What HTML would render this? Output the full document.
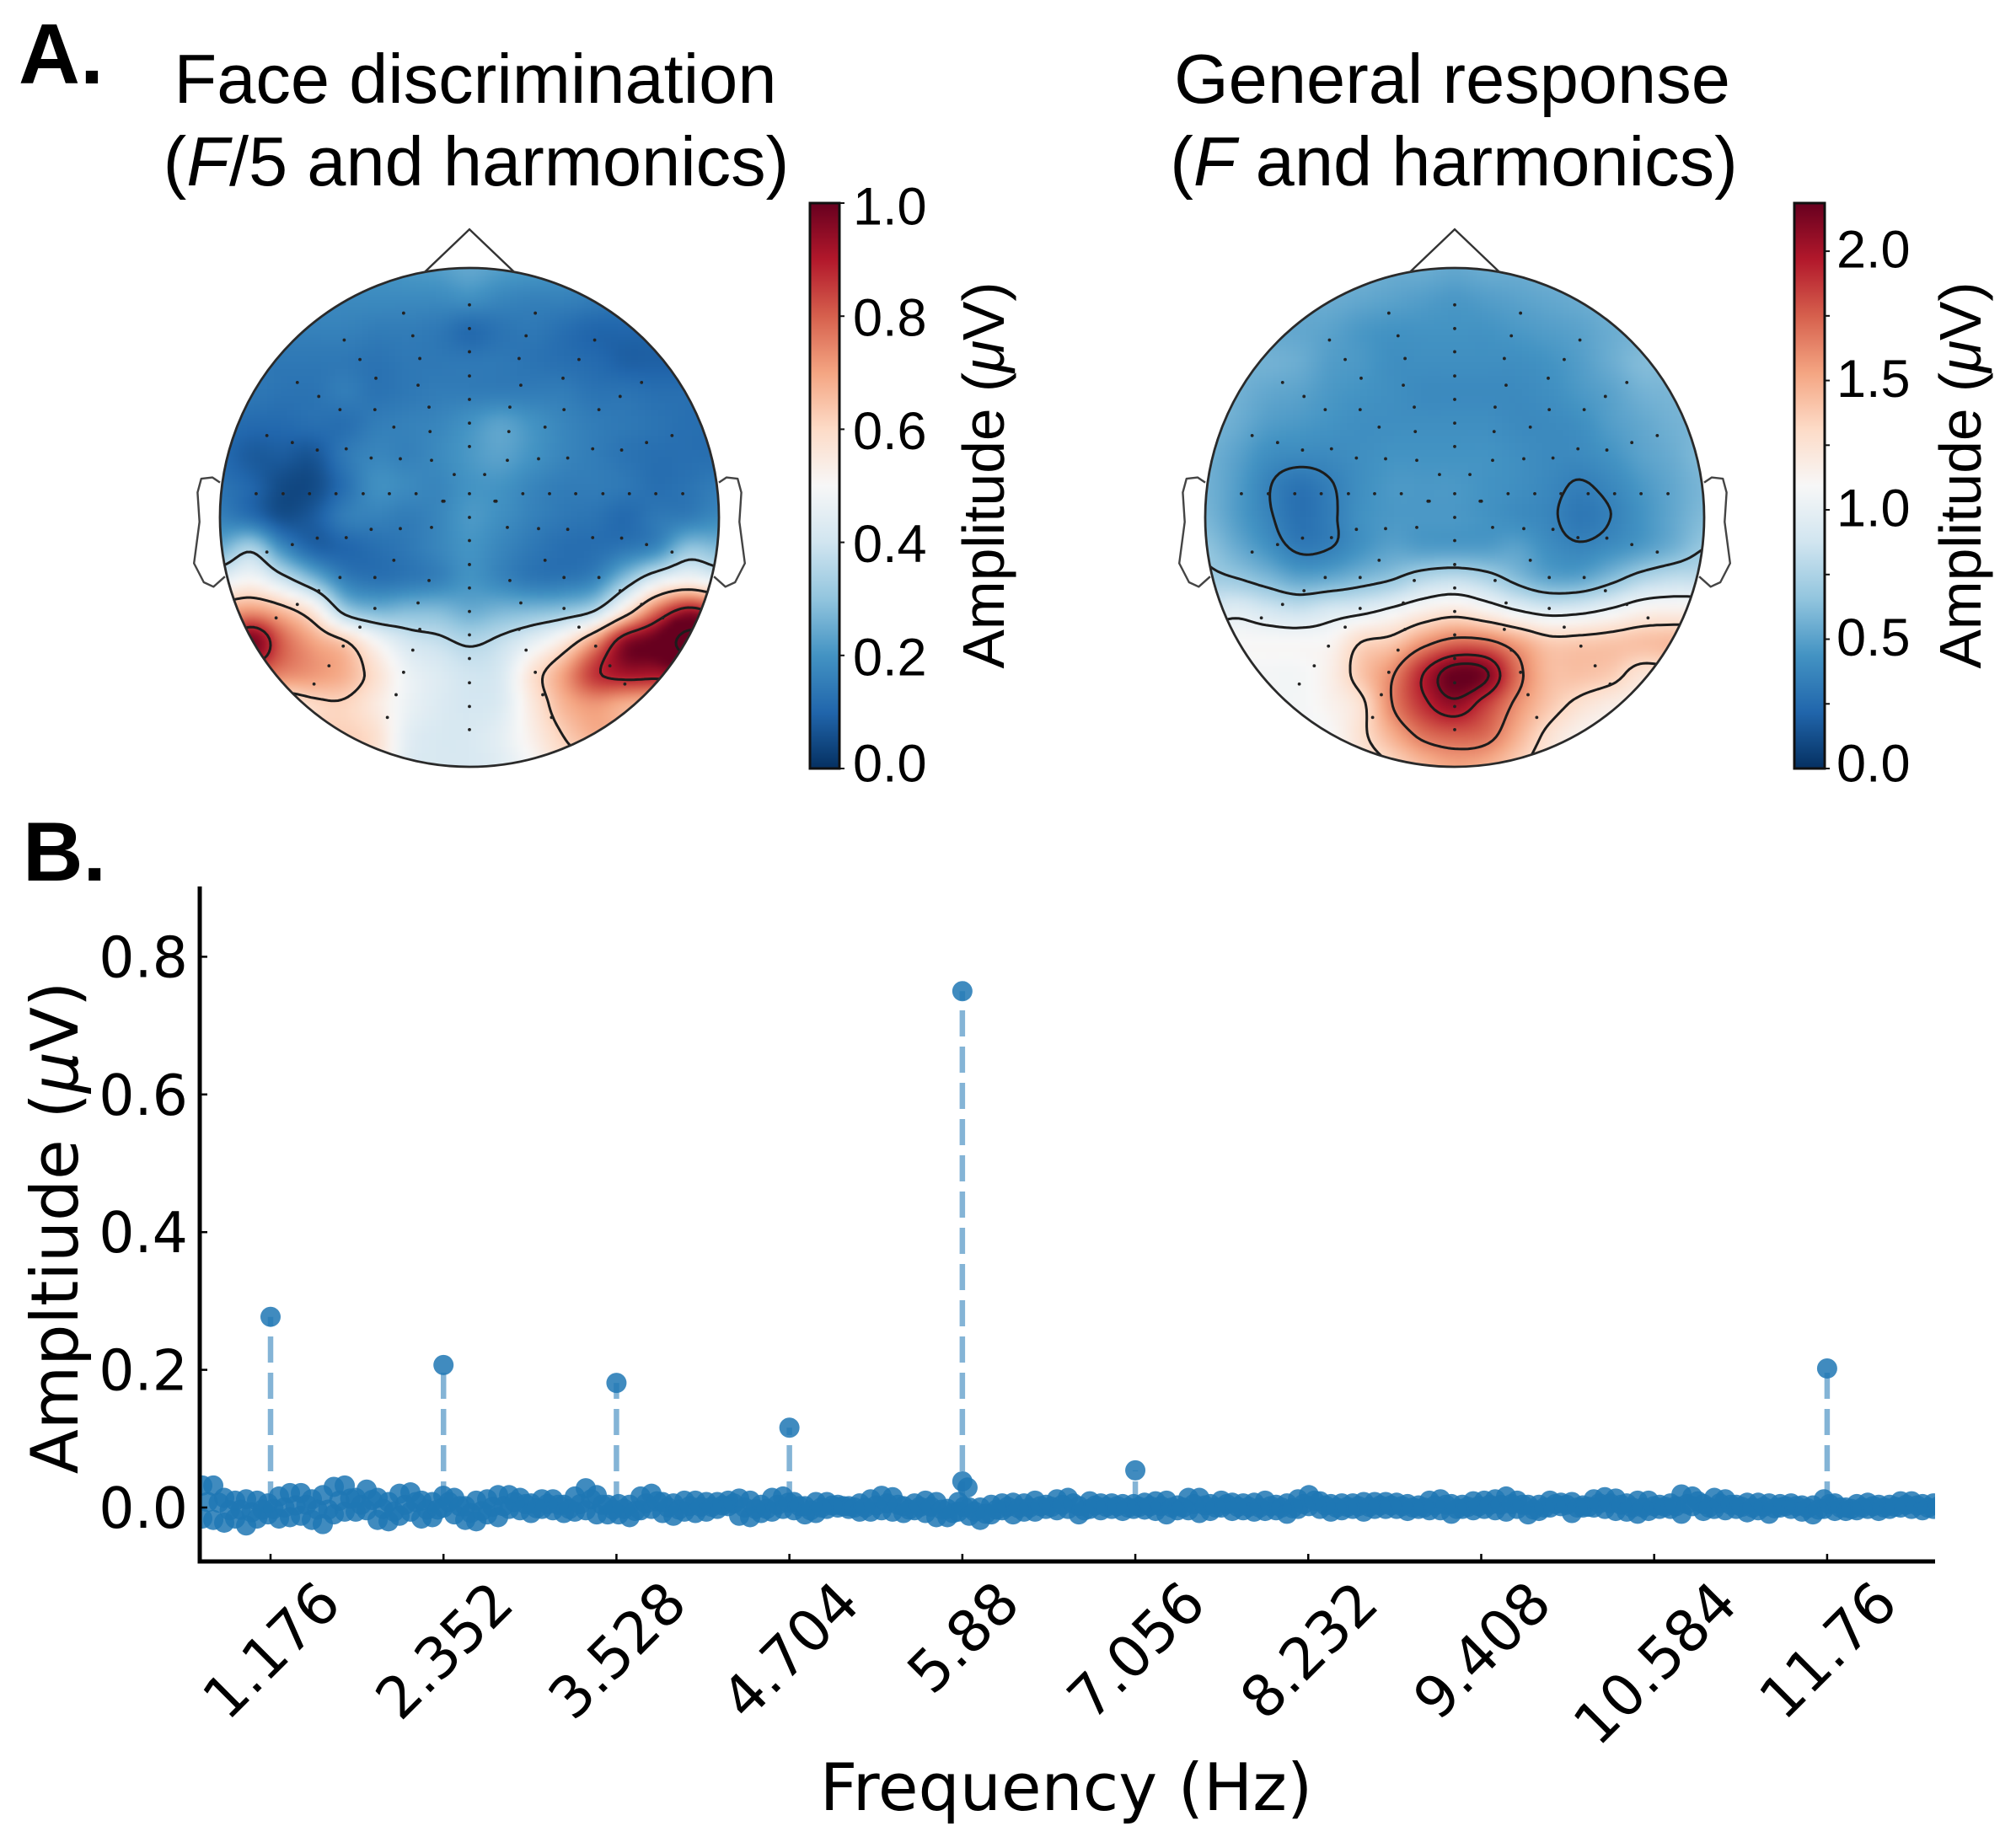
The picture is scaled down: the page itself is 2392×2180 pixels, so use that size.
<!DOCTYPE html>
<html lang="en">
<head>
<meta charset="utf-8">
<title>Face discrimination and general response topographies with amplitude spectrum</title>
<style>
html,body{margin:0;padding:0;background:#fff;}
svg{display:block;}
.sans{font-family:"Liberation Sans",Arial,sans-serif;fill:#000;}
.dv{font-family:"DejaVu Sans",sans-serif;fill:#000;}
</style>
</head>
<body>
<svg id="figure" xmlns="http://www.w3.org/2000/svg" width="2392" height="2180" viewBox="0 0 2392 2180">
  <defs>
    <filter id="heat-blur" x="-5%" y="-5%" width="110%" height="110%" color-interpolation-filters="sRGB"><feGaussianBlur stdDeviation="3.5"/></filter>
    <clipPath id="clip-head-1"><circle cx="557" cy="614" r="296"/></clipPath>
    <clipPath id="clip-head-2"><circle cx="1726" cy="614" r="296"/></clipPath>
    <clipPath id="clip-axes"><rect x="237" y="1040" width="2059" height="813"/></clipPath>
    <linearGradient id="cbar-gradient" x1="0" y1="1" x2="0" y2="0"></linearGradient>
  </defs>
  <rect width="2392" height="2180" fill="#fff"/>

  <text class="sans" x="22" y="99" font-size="101" font-weight="700">A.</text>
  <text class="sans" x="27" y="1045" font-size="99" font-weight="700">B.</text>

  <text class="sans" x="564" y="122" font-size="83" text-anchor="middle">Face discrimination</text>
  <text class="sans" x="565" y="220" font-size="83" text-anchor="middle">(<tspan font-style="italic">F</tspan>/5 and harmonics)</text>
  <text class="sans" x="1723" y="122" font-size="83" text-anchor="middle">General response</text>
  <text class="sans" x="1725" y="220" font-size="83" text-anchor="middle">(<tspan font-style="italic">F</tspan> and harmonics)</text>

  <g id="topo-1"></g>
  <g id="topo-2"></g>
  <g id="cbar-1"></g>
  <g id="cbar-2"></g>

  <text class="sans" font-size="69.5" text-anchor="middle" transform="translate(1191,564) rotate(-90)">Amplitude (<tspan font-style="italic">μ</tspan>V)</text>
  <text class="sans" font-size="69.5" text-anchor="middle" transform="translate(2350,564) rotate(-90)">Amplitude (<tspan font-style="italic">μ</tspan>V)</text>

  <g id="spectrum">
    <g id="spectrum-stems" clip-path="url(#clip-axes)"></g>
    <g id="spectrum-points" clip-path="url(#clip-axes)"></g>
    <g id="spectrum-axes"></g>
  </g>
  <text class="dv" font-size="77.5" text-anchor="middle" transform="translate(92,1457) rotate(-90)">Ampltiude (<tspan font-style="italic">μ</tspan>V)</text>
  <text class="dv" font-size="77.5" text-anchor="middle" x="1265" y="2148">Frequency (Hz)</text>
</svg>

<script>
// ---------- Panel A data: scalp amplitude, on a 17x17 grid over the head (percent of colour-bar maximum) ----------
const faceAmplitudeGrid = [
[20,20,20,20,20,20,21,22,24,22,21,20,18,18,18,18,18],
[18,18,18,18,18,18,18,18,19,17,16,16,15,14,14,14,14],
[16,16,16,16,16,15,15,14,11,13,14,12,10,10,10,10,10],
[14,14,14,14,14,13,14,14,14,14,13,12,11,9,9,9,9],
[14,14,13,13,15,13,14,15,15,15,15,15,13,13,12,12,12],
[12,11,11,12,12,15,16,17,20,23,20,17,15,14,13,12,12],
[11,8,8,7,14,17,16,18,21,23,20,17,15,13,12,12,12],
[13,10,5,5,12,19,18,17,20,20,17,15,15,14,12,13,15],
[16,12,6,8,15,16,15,17,21,19,16,14,13,11,14,15,18],
[26,34,19,10,10,12,14,17,20,17,14,12,12,14,18,30,28],
[45,50,40,28,16,13,14,16,20,17,14,14,17,30,44,50,45],
[68,72,66,55,33,27,28,28,25,27,28,30,36,56,78,92,85],
[80,98,80,70,63,50,41,38,35,38,45,55,72,95,102,120,120],
[75,80,75,72,68,58,47,43,40,42,57,70,86,92,92,95,95],
[55,55,55,60,61,55,47,43,41,43,55,67,72,68,66,66,66],
[55,55,55,60,62,58,45,42,42,45,53,62,68,68,68,68,68],
[50,50,50,50,64,58,44,42,42,44,50,58,60,60,60,60,60]
];
const generalAmplitudeGrid = [
[26,26,26,26,26,26,25,25,24,25,25,26,26,26,26,26,26],
[25,25,25,25,25,24,23,22,21,22,23,24,25,26,26,26,26],
[24,24,24,24,23,21,20,20,20,20,21,22,23,25,26,26,26],
[26,26,26,25,22,21,19,19,19,19,19,20,22,25,28,28,28],
[28,26,24,23,21,20,19,18,18,18,18,19,21,23,26,27,28],
[27,25,22,21,20,19,19,19,19,19,18,18,19,22,24,26,27],
[26,23,19,18,18,19,20,20,20,20,19,18,18,20,23,25,28],
[26,22,16.5,13,15.5,19,21,21,21,20,19,17.5,15.5,17.5,21,24,27],
[27,22,17,12.5,15,19.5,21,21,21,20,18.5,17,14,16,20,24,28],
[30,25,20,15,16,20,23,22,22,22,23,19,17,19,22,26,31],
[33,31.5,28,24,25,28,31,36,38,35,29,24,24,29,35,38,38],
[42,44,41,39,42,44,48,53,56,52,46.5,43,44,47.5,52,53,53],
[50,50,50,50,51,60,63,72,78,77,70,63,63,64,65,66,66],
[49,49,49,49,53,64,74,89,100,97,78,66,65,63,57,58,58],
[49,49,49,49,52,58,75,87,94,85,73,64,58,54,52,52,52],
[49,49,49,49,50,58,68,77,80,78,68,58,52,50,50,50,50],
[50,50,50,50,50,55,60,66,70,68,62,55,50,50,50,50,50]
];
const faceContourLevels = [36,62,88,114];
const generalContourLevels = [16,31,46,60,75,89,96];
const faceColorbarTicks = [0,0.2,0.4,0.6,0.8,1.0];
const faceColorbarLabels = ["0.0","0.2","0.4","0.6","0.8","1.0"];
const generalColorbarTicks = [0,0.25,0.5,0.75,1.0,1.25,1.5,1.75,2.0];
const generalColorbarLabels = ["0.0","","0.5","","1.0","","1.5","","2.0"];
// electrode layout: [offset from midline, row] in head units, mirrored left/right
const sensorMidline = [-.852,-.757,-.664,-.567,-.473,-.378,-.284,-.095,0,.093,.189,.283,.377,.471,.566,.663,.758,.851];
const sensorPairs = [[.264,-.819],[.227,-.728],[.502,-.711],[.199,-.637],[.439,-.633],[.206,-.53],[.375,-.558],[.69,-.541],[.604,-.485],
[.162,-.442],[.379,-.432],[.519,-.432],[.303,-.362],[.158,-.344],[.812,-.328],[.71,-.3],[.61,-.27],[.494,-.275],[.394,-.238],[.277,-.235],[.152,-.229],[.061,-.172],
[.107,-.065],[.106,-.065],[.214,-.095],[.321,-.095],[.426,-.095],[.535,-.095],[.641,-.095],[.747,-.095],[.855,-.095],
[.102,-.065],[.152,.04],[.277,.045],[.394,.048],[.494,.081],[.61,.083],[.71,.109],[.812,.139],[.303,.172],[.519,.241],[.379,.241],[.162,.253],
[.206,.343],[.379,.365],[.604,.294],[.69,.349],[.439,.44],[.199,.449],[.227,.532],[.506,.516],[.775,.403],[.563,.595],[.623,.668],[.264,.621],[.294,.711],[.329,.802]];
// ear outline in head units (left ear, mirrored for right)
const earOutline = [[-1,-.14],[-1.03,-.16],[-1.075,-.155],[-1.09,-.1],[-1.082,.018],[-1.104,.184],[-1.065,.26],[-1.026,.278],[-.98,.237]];

// ---------- Panel B data ----------
const harmonicFreqs = [1.176,2.352,3.528,4.704,5.88,7.056,11.76];
const harmonicAmps = [0.277,0.207,0.181,0.116,0.750,0.054,0.202];
const extraFreqs = [5.88,5.915];
const extraAmps = [0.038,0.029];
const noiseStartHz = 0.712;
const noiseStepHz = 0.0745;
// noise-floor points (thousandths of a µV) along the top, bottom and middle of the band
const noiseUpper = [32,32,14,10,12,10,6,16,21,21,12,18,30,32,14,26,14,8,20,22,10,8,17,14,2,10,12,18,18,14,6,12,12,4,16,28,18,4,5,4,
16,20,8,6,10,10,8,8,10,13,10,4,14,16,8,2,8,8,4,2,6,12,17,15,2,6,10,8,-2,8,0,0,4,6,7,6,10,4,12,14,
2,9,6,6,5,5,7,9,10,3,14,14,5,10,7,6,7,10,4,6,12,18,9,5,6,6,8,8,8,7,5,3,10,12,5,4,9,10,12,16,
10,4,4,10,7,8,3,12,15,13,6,10,10,4,6,19,16,5,14,12,4,7,7,6,5,6,3,3,12,6,0,5,7,4,4,9,9,5,6];
const noiseLower = [-16,-18,-22,-16,-26,-16,-10,-16,-14,-12,-18,-24,-10,-6,-6,-4,-18,-20,-12,-6,-16,-14,0,-10,-18,-20,-10,-14,-2,-4,-8,-2,-4,-8,-6,-4,-10,-10,-10,-14,
-4,-2,-8,-12,-6,-8,-6,-2,2,-12,-14,-8,-6,-2,-4,-10,-8,-2,0,-2,-6,-6,-4,-6,-8,-4,-8,-14,-14,-6,-12,-18,-10,-4,-10,-6,-6,-2,-4,-2,
-10,-2,-4,-2,-5,-2,-3,-5,-10,-4,-4,-8,-5,0,-5,-4,-6,-5,-4,-9,-2,2,-2,-6,-4,-2,-6,-2,-2,-2,-5,-2,-4,-4,-9,-2,-4,-2,-4,-6,
-2,-10,-5,0,2,-8,0,0,-2,-5,-6,-9,-5,-2,-2,-9,2,-5,-2,-4,-2,-7,-4,-9,0,-2,-6,-10,-2,-5,-5,-4,-2,-5,-2,0,-2,-4,-2];
const noiseMiddle = [8,7,-4,-3,-7,-3,-2,0,3,4,-3,-3,10,13,4,11,-2,-6,4,8,-3,-3,8,2,-8,-5,1,2,8,5,-1,5,4,-2,5,12,4,-3,-2,-5,
6,9,0,-3,2,1,1,3,6,0,-2,-2,4,7,2,-4,0,3,2,0,0,3,6,4,-3,1,1,-3,-8,1,-6,-9,-3,1,-1,0,2,1,4,6,
-4,3,1,2,0,1,2,2,0,0,5,3,0,5,1,1,0,2,0,-1,5,10,3,0,1,2,1,3,3,2,0,0,3,4,-2,1,2,4,4,5,
4,-3,0,5,4,0,1,6,6,4,0,0,2,1,2,5,9,0,6,4,1,0,1,-1,2,2,-1,-3,5,0,-2,0,2,0,1,4,3,0,2];
const xTickValues = [1.176,2.352,3.528,4.704,5.88,7.056,8.232,9.408,10.584,11.76];
const xTickLabels = ["1.176","2.352","3.528","4.704","5.88","7.056","8.232","9.408","10.584","11.76"];
const yTickValues = [0,0.2,0.4,0.6,0.8];
const yTickLabels = ["0.0","0.2","0.4","0.6","0.8"];

const NS = "http://www.w3.org/2000/svg";
function mk(tag, parent, attrs){
  const e = document.createElementNS(NS, tag);
  for (const k in attrs) e.setAttribute(k, attrs[k]);
  parent.appendChild(e);
  return e;
}

// RdBu_r colour map
const cmapStops = [[5,48,97],[33,102,172],[67,147,195],[146,197,222],[209,229,240],[247,247,247],[253,219,199],[244,165,130],[214,96,77],[178,24,43],[103,0,31]];
function colorAt(t){
  t = Math.max(0, Math.min(1, t));
  const p = t * 10, i = Math.min(9, Math.floor(p)), f = p - i;
  const a = cmapStops[i], b = cmapStops[i + 1];
  return "rgb(" + Math.round(a[0] + (b[0] - a[0]) * f) + "," + Math.round(a[1] + (b[1] - a[1]) * f) + "," + Math.round(a[2] + (b[2] - a[2]) * f) + ")";
}
const grad = document.getElementById("cbar-gradient");
cmapStops.forEach(function(s, i){
  mk("stop", grad, {offset: (i * 10) + "%", "stop-color": "rgb(" + s.join(",") + ")"});
});

function cr(p0, p1, p2, p3, t){
  return 0.5 * (2 * p1 + (-p0 + p2) * t + (2 * p0 - 5 * p1 + 4 * p2 - p3) * t * t + (-p0 + 3 * p1 - 3 * p2 + p3) * t * t * t);
}
function fieldAt(grid, u, v){
  const n = grid.length - 1;
  const gx = Math.max(0, Math.min(n - 1e-6, (u + 1) / 2 * n));
  const gy = Math.max(0, Math.min(n - 1e-6, (v + 1) / 2 * n));
  const i = Math.floor(gx), j = Math.floor(gy), fx = gx - i, fy = gy - j;
  const row = function(r){
    const R = grid[Math.max(0, Math.min(n, r))];
    return cr(R[Math.max(0, i - 1)], R[i], R[i + 1], R[Math.min(n, i + 2)], fx);
  };
  return cr(row(j - 1), row(j), row(j + 1), row(j + 2), fy);
}

function drawTopo(groupId, clipId, cx, cy, R, grid, levels){
  const g = document.getElementById(groupId);
  const clip = mk("g", g, {"clip-path": "url(#" + clipId + ")"});
  
  
  const heat = mk("g", clip, {filter: "url(#heat-blur)"});
  
  
  const cell = 8;
  for (let y = cy - R - 16; y < cy + R + 16; y += cell) {
    for (let x = cx - R - 16; x < cx + R + 16; x += cell) {
      const dx = x + cell / 2 - cx, dy = y + cell / 2 - cy;
      if (dx * dx + dy * dy > (R + 24) * (R + 24)) continue;
      const val = fieldAt(grid, dx / R, dy / R);
      const rect = mk("rect", heat, {x: x, y: y, width: cell + 0.5, height: cell + 0.5, fill: colorAt(val / 100)});
      
      
    }
  }
  // contours by marching squares on the same field
  const step = 4;
  const nx = Math.ceil(2 * R / step) + 1;
  const vals = [];
  for (let j = 0; j <= nx; j++) {
    vals[j] = [];
    for (let i = 0; i <= nx; i++) {
      vals[j][i] = fieldAt(grid, (i * step - R) / R, (j * step - R) / R);
    }
  }
  levels.forEach(function(L){
    let d = "";
    for (let j = 0; j < nx; j++) {
      for (let i = 0; i < nx; i++) {
        const a = vals[j][i], b = vals[j][i + 1], c = vals[j + 1][i + 1], e = vals[j + 1][i];
        const x0 = cx - R + i * step, y0 = cy - R + j * step;
        const pts = [];
        if ((a < L) !== (b < L)) pts.push([x0 + step * (L - a) / (b - a), y0]);
        if ((b < L) !== (c < L)) pts.push([x0 + step, y0 + step * (L - b) / (c - b)]);
        if ((e < L) !== (c < L)) pts.push([x0 + step * (L - e) / (c - e), y0 + step]);
        if ((a < L) !== (e < L)) pts.push([x0, y0 + step * (L - a) / (e - a)]);
        for (let k = 0; k + 1 < pts.length; k += 2) {
          d += "M" + pts[k][0].toFixed(1) + " " + pts[k][1].toFixed(1) + "L" + pts[k + 1][0].toFixed(1) + " " + pts[k + 1][1].toFixed(1);
        }
      }
    }
    const path = mk("path", clip, {d: d, fill: "none", stroke: "#1c1c1c", "stroke-width": 3, "stroke-linecap": "round"});
    
    
  });
  // electrodes
  const sensors = mk("g", g, {fill: "#222"});
  
  
  sensorMidline.forEach(function(v){
    const s = mk("circle", sensors, {cx: cx, cy: cy + v * R, r: 1.9});
    
    
  });
  sensorPairs.forEach(function(p){
    [-1, 1].forEach(function(sign){
      const s = mk("circle", sensors, {cx: cx + sign * p[0] * R, cy: cy + p[1] * R, r: 1.9});
      
      
    });
  });
  // outline, nose, ears
  const head = mk("circle", g, {cx: cx, cy: cy, r: R, fill: "none", stroke: "#2a2a2a", "stroke-width": 2.8});
  
  
  const nose = mk("polyline", g, {points: (cx - .18 * R) + "," + (cy - .983 * R) + " " + cx + "," + (cy - 1.155 * R) + " " + (cx + .18 * R) + "," + (cy - .983 * R), fill: "none", stroke: "#333", "stroke-width": 2.4});
  
  
  [-1, 1].forEach(function(sign){
    const pts = earOutline.map(function(p){ return (cx - sign * p[0] * R).toFixed(1) + "," + (cy + p[1] * R).toFixed(1); }).join(" ");
    const ear = mk("polyline", g, {points: pts, fill: "none", stroke: "#444", "stroke-width": 2.4, "stroke-linejoin": "round"});
    
    
  });
}

function drawColorbar(groupId, x0, x1, yTop, yBot, vmax, ticks, labels, labelX, nudge){
  const g = document.getElementById(groupId);
  const bar = mk("rect", g, {x: x0, y: yTop, width: x1 - x0, height: yBot - yTop, fill: "url(#cbar-gradient)", stroke: "#111", "stroke-width": 3});
  
  
  ticks.forEach(function(t, i){
    const y = yBot - (t / vmax) * (yBot - yTop);
    const tick = mk("line", g, {x1: x1, x2: x1 + 6, y1: y, y2: y, stroke: "#111", "stroke-width": 2});
    
    
    if (labels[i]) {
      const centre = Math.max(yTop + 3, Math.min(yBot - 7, y + nudge));
      const txt = mk("text", g, {x: labelX, y: centre + 22.5, "font-size": 63, "class": "sans"});
      
      
      txt.textContent = labels[i];
    }
  });
}

drawTopo("topo-1", "clip-head-1", 557, 614, 296, faceAmplitudeGrid, faceContourLevels);
drawTopo("topo-2", "clip-head-2", 1726, 614, 296, generalAmplitudeGrid, generalContourLevels);
drawColorbar("cbar-1", 961, 996, 241, 912, 1.0, faceColorbarTicks, faceColorbarLabels, 1012, 1);
drawColorbar("cbar-2", 2129, 2165, 241, 912, 2.186, generalColorbarTicks, generalColorbarLabels, 2179, -3);

// ---------- Panel B ----------
function xScale(f){ return 321 + (f - 1.176) * 174.5; }
function yScale(a){ return 1789 - a * 817; }
const AXIS_LEFT = 237, AXIS_RIGHT = 2296, AXIS_TOP = 1052, AXIS_BOTTOM = 1853;
const stems = document.getElementById("spectrum-stems");
const points = document.getElementById("spectrum-points");
const axes = document.getElementById("spectrum-axes");
const MARK = {r: 12, fill: "#1f77b4", "fill-opacity": 0.85};

harmonicFreqs.forEach(function(f, i){
  const line = mk("line", stems, {x1: xScale(f), x2: xScale(f), y1: yScale(0), y2: yScale(harmonicAmps[i]), stroke: "#1f77b4", "stroke-opacity": 0.55, "stroke-width": 6.5, "stroke-dasharray": "31 12"});
  
  
});
function addPoint(f, a, name){
  const c = mk("circle", points, {cx: xScale(f), cy: yScale(a), r: MARK.r, fill: MARK.fill, "fill-opacity": MARK["fill-opacity"]});
  
  
}
noiseUpper.forEach(function(a, i){ addPoint(noiseStartHz + i * noiseStepHz, a / 1000, "noise-point"); });
noiseLower.forEach(function(a, i){ addPoint(noiseStartHz + i * noiseStepHz, a / 1000, "noise-point"); });
noiseMiddle.forEach(function(a, i){ addPoint(noiseStartHz + (i + 0.5) * noiseStepHz, a / 1000, "noise-point"); });
extraFreqs.forEach(function(f, i){ addPoint(f, extraAmps[i], "neighbour-point"); });
harmonicFreqs.forEach(function(f, i){ addPoint(f, harmonicAmps[i], "harmonic-point"); });

const leftSpine = mk("line", axes, {x1: AXIS_LEFT, x2: AXIS_LEFT, y1: AXIS_TOP, y2: AXIS_BOTTOM + 2.5, stroke: "#000", "stroke-width": 5});


const bottomSpine = mk("line", axes, {x1: AXIS_LEFT - 2.5, x2: AXIS_RIGHT, y1: AXIS_BOTTOM, y2: AXIS_BOTTOM, stroke: "#000", "stroke-width": 5});



yTickValues.forEach(function(v, i){
  const y = yScale(v);
  const t = mk("line", axes, {x1: AXIS_LEFT, x2: AXIS_LEFT + 9, y1: y, y2: y, stroke: "#000", "stroke-width": 2.5});
  
  
  const txt = mk("text", axes, {x: 223, y: y + 24, "font-size": 66.5, "text-anchor": "end", "class": "dv"});
  
  
  txt.textContent = yTickLabels[i];
});
xTickValues.forEach(function(v, i){
  const x = xScale(v);
  const t = mk("line", axes, {x1: x, x2: x, y1: AXIS_BOTTOM, y2: AXIS_BOTTOM - 9, stroke: "#000", "stroke-width": 2.5});
  
  
  const txt = mk("text", axes, {x: 0, y: 0, "font-size": 68, "text-anchor": "middle", "class": "dv"});
  
  
  txt.textContent = xTickLabels[i];
  const w = txt.getComputedTextLength();
  const cy = 1871 + (w + 50) * 0.3536;
  txt.setAttribute("transform", "translate(" + x + "," + (cy + 25) + ") rotate(-45 0 -25)");
});
</script>
</body>
</html>
